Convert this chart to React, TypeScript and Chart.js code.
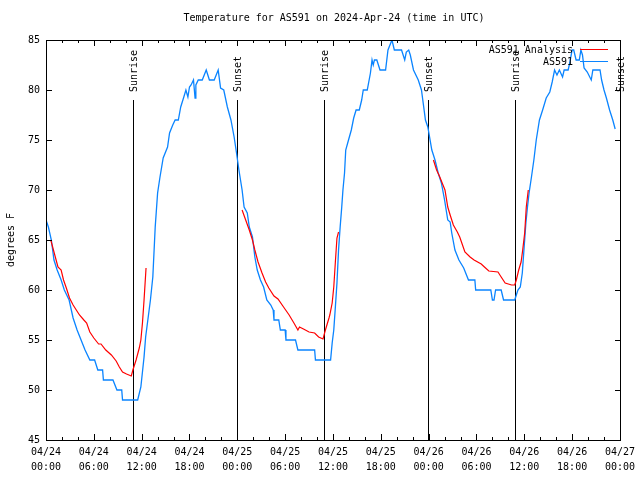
import React, { useEffect, useRef } from "react";
import { Chart, registerables } from "chart.js";
Chart.register(...registerables);

const FONT = '"DejaVu Sans Mono", monospace';
const TITLE = "Temperature for AS591 on 2024-Apr-24 (time in UTC)";
const Y_LABEL = "degrees F";
const DAY_LABELS = ["04/24", "04/25", "04/26", "04/27"];
const Y_MIN = 45;
const Y_MAX = 85;
const Y_STEP = 5;
const X_MIN = 0;
const X_MAX = 72;
const X_MAJOR = 6;
const X_MINOR = 2;

const OBS_LABEL = "AS591";
const ANA_LABEL = "AS591 Analysis";
const OBS_COLOR = "#0a84ff";
const ANA_COLOR = "#ff0000";

// hours since 2024-04-24 00:00 UTC
const obsHours = [
  0, 0.3, 0.67, 1.0, 1.4, 1.9, 2.3, 2.9, 3.4, 3.9, 4.4, 4.9, 5.5, 6.1, 6.5, 7.1, 7.2, 8.4, 8.9, 9.5, 9.6, 11.5,
  11.9, 12.3, 12.5, 13.1, 13.4, 13.7, 14.0, 14.3, 14.7, 15.25, 15.5, 15.9, 16.2, 16.6, 16.9, 17.25, 17.55, 17.8,
  18.0, 18.2, 18.5, 18.7, 18.8, 19.1, 19.6, 20.1, 20.5, 21.1, 21.6, 21.9, 22.3, 22.75, 23.2, 23.6, 23.9, 24.2,
  24.6, 24.85, 25.25, 25.5, 25.9, 26.2, 26.5, 26.9, 27.3, 27.7, 28.2, 28.5, 28.6, 29.2, 29.4, 30.0, 30.1, 31.3,
  31.6, 33.7, 33.8, 35.7, 35.9, 36.1, 36.3, 36.5, 36.7, 36.9, 37.1, 37.25, 37.45, 37.6, 37.95, 38.3, 38.6, 38.9,
  39.3, 39.6, 39.8, 40.3, 40.7, 40.9, 41.05, 41.2, 41.5, 41.9, 42.6, 42.9, 43.4, 43.7, 44.6, 45.0, 45.2, 45.5,
  45.7, 46.1, 46.7, 47.1, 47.3, 47.6, 47.9, 48.4, 48.8, 49.2, 49.6, 50.0, 50.4, 50.7, 50.9, 51.3, 51.8, 52.4,
  53.0, 53.8, 53.9, 55.8, 56.0, 56.2, 56.4, 57.1, 57.4, 58.8, 59.2, 59.5, 59.75, 60.0, 60.2, 60.4, 60.6, 60.9,
  61.2, 61.5, 61.9, 62.3, 62.75, 63.2, 63.5, 63.8, 64.1, 64.4, 64.8, 65.0, 65.5, 65.7, 66.0, 66.2, 66.5, 66.9,
  67.1, 67.3, 67.5, 67.9, 68.4, 68.6, 69.5, 69.7, 70.0, 70.3, 70.7, 71.1, 71.4,
];
const obsTemps = [
  67, 66.3, 65, 63, 62, 61, 60, 59, 57.2, 56, 55, 54, 53, 53, 52, 52, 51, 51, 50, 50, 49, 49,
  50.3, 53.3, 55.3, 59, 61.3, 66.3, 69.7, 71.3, 73.2, 74.3, 75.7, 76.5, 77, 77, 78.3, 79.2, 80, 79.3,
  80.3, 80.5, 81, 79.2, 80.5, 81, 81, 82, 81, 81, 82, 80.2, 80, 78.3, 77, 75.3, 73.7, 72,
  70, 68.3, 67.7, 66.3, 65.3, 63.3, 62, 61, 60.3, 59, 58.5, 58, 57, 57, 56, 56, 55, 55,
  54, 54, 53, 53, 54.7, 56, 58.3, 60.7, 64, 66.3, 68.3, 70, 71.7, 74, 75, 76, 77.2, 78,
  78, 79, 80, 80, 81.7, 83, 82.5, 83, 83, 82, 82, 84, 85, 84, 84, 83, 83.8, 84,
  83.5, 82, 81, 80, 78.8, 77, 76.3, 74, 73, 71.7, 70.7, 69, 67, 66.8, 65.7, 64, 63, 62.2,
  61, 61, 60, 60, 59, 59, 60, 60, 59, 59, 60, 60.3, 61.7, 64.5, 66.7, 68.3, 69.7, 71.3,
  73, 75, 77, 78, 79.2, 79.8, 80.8, 82, 81.5, 82, 81.3, 82, 82, 82.7, 84, 84, 83, 83,
  84, 83.5, 82.2, 81.8, 81, 82, 82, 81, 80, 79.2, 78, 77, 76.1,
];

// analysis: three night-time segments, null separates them
const anaHours = [
  0.6, 1.1, 1.5, 1.9, 2.2, 2.55, 2.95, 3.4, 3.8, 4.2, 4.75, 5.1, 5.5, 6.0, 6.6, 6.9, 7.5, 8.2, 8.8, 9.2, 9.6,
  10.1, 10.7, 10.9, 11.3, 11.7, 11.9, 12.1, 12.3, 12.55,
  18,
  24.6, 25.05, 25.5, 25.9, 26.2, 26.6, 27.1, 27.55, 27.95, 28.6, 29.1, 29.8, 30.5, 31.1, 31.6, 31.8, 32.3,
  33.0, 33.7, 34.2, 34.75, 35.05, 35.5, 35.6, 35.9, 36.1, 36.3, 36.5, 36.7,
  42,
  48.6, 49.0, 49.4, 49.8, 50.05, 50.4, 50.7, 51.1, 51.6, 51.9, 52.55, 53.2, 53.7, 54.6, 55.0, 55.55, 56.7,
  57.1, 57.6, 58.4, 58.8, 59.0, 59.3, 59.6, 59.8, 60.05, 60.25, 60.5,
];
const anaTemps = [
  65, 63.5, 62.3, 62, 61, 60.2, 59.2, 58.5, 58, 57.5, 57, 56.7, 55.8, 55.2, 54.6, 54.6, 54, 53.5, 52.9, 52.3, 51.8,
  51.6, 51.4, 52, 53, 54.2, 55, 56.7, 59, 62.2,
  null,
  68, 67, 66, 65, 64, 62.8, 61.7, 60.8, 60.2, 59.4, 59.1, 58.3, 57.5, 56.7, 56, 56.3, 56.1,
  55.8, 55.7, 55.3, 55.1, 56, 57.2, 57.5, 58.7, 60.3, 62.8, 65.2, 65.8,
  null,
  73, 72, 71.3, 70.5, 70, 68.3, 67.5, 66.5, 65.8, 65.3, 63.8, 63.3, 63, 62.6, 62.3, 61.9, 61.8,
  61.3, 60.7, 60.5, 60.5, 61, 62, 62.8, 64, 65.7, 68.3, 70,
];

const sunHours = [10.87, 23.92, 34.9, 47.9, 58.8, 71.95];
const sunLabels = ["Sunrise", "Sunset", "Sunrise", "Sunset", "Sunrise", "Sunset"];

const pad2 = (n: number) => (n < 10 ? "0" + n : "" + n);

const decorPlugin = {
  id: "decor",
  beforeDatasetsDraw(chart: any) {
    const { ctx, chartArea: a, scales } = chart;
    const xs = scales.x;
    const h = a.bottom - a.top;
    ctx.save();
    ctx.fillStyle = "#000";
    ctx.font = "10px " + FONT;
    sunHours.forEach((hr, i) => {
      const x = Math.round(xs.getPixelForValue(hr));
      const top = Math.round(a.bottom - 0.85 * h);
      ctx.fillRect(x, top, 1, a.bottom - top);
      ctx.save();
      ctx.translate(x + 1.5, a.bottom - 0.87 * h);
      ctx.rotate(-Math.PI / 2);
      ctx.textAlign = "left";
      ctx.textBaseline = "middle";
      ctx.fillText(sunLabels[i], 0, 0);
      ctx.restore();
    });
    ctx.restore();
  },
  afterDraw(chart: any) {
    const { ctx, chartArea: a, scales } = chart;
    const xs = scales.x;
    const ys = scales.y;
    const L = Math.round(a.left);
    const R = Math.round(a.right);
    const T = Math.round(a.top);
    const B = Math.round(a.bottom);
    ctx.save();
    ctx.fillStyle = "#000";
    // frame
    ctx.fillRect(L, T, R - L + 1, 1);
    ctx.fillRect(L, B, R - L + 1, 1);
    ctx.fillRect(L, T, 1, B - T + 1);
    ctx.fillRect(R, T, 1, B - T + 1);
    // x ticks (bottom + mirrored top)
    for (let v = X_MIN; v <= X_MAX; v += X_MINOR) {
      const x = Math.round(xs.getPixelForValue(v));
      const len = v % X_MAJOR === 0 ? 6 : 3;
      ctx.fillRect(x, B - len, 1, len);
      ctx.fillRect(x, T, 1, len);
    }
    // y ticks (left + mirrored right)
    for (let v = Y_MIN; v <= Y_MAX; v += Y_STEP) {
      const y = Math.round(ys.getPixelForValue(v));
      ctx.fillRect(L, y, 6, 1);
      ctx.fillRect(R - 5, y, 6, 1);
    }

    ctx.font = "10px " + FONT;
    ctx.textAlign = "center";
    ctx.textBaseline = "middle";
    ctx.fillText(TITLE, (a.left + a.right) / 2 + 1, 18);

    ctx.save();
    ctx.translate(11, (a.top + a.bottom) / 2);
    ctx.rotate(-Math.PI / 2);
    ctx.fillText(Y_LABEL, 0, 0);
    ctx.restore();

    // key
    const entries = [
      { label: ANA_LABEL, color: ANA_COLOR },
      { label: OBS_LABEL, color: OBS_COLOR },
    ];
    entries.forEach((e, i) => {
      const y = T + 10 + i * 12;
      ctx.textAlign = "right";
      ctx.fillStyle = "#000";
      ctx.fillText(e.label, R - 47, y);
      ctx.fillStyle = e.color;
      ctx.fillRect(R - 40, y - 1, 28, 1);
    });
    ctx.restore();
  },
};

export default function App() {
  const ref = useRef<HTMLCanvasElement>(null);
  useEffect(() => {
    if (!ref.current) return;
    const xTicks: number[] = [];
    for (let v = X_MIN; v <= X_MAX; v += X_MAJOR) xTicks.push(v);
    const chart = new Chart(ref.current, {
      type: "line",
      data: {
        datasets: [
          {
            label: ANA_LABEL,
            data: anaHours.map((h, i) => ({ x: h, y: anaTemps[i] })) as any,
            borderColor: ANA_COLOR,
            borderWidth: 1.2,
            pointRadius: 0,
            tension: 0,
            spanGaps: false,
          },
          {
            label: OBS_LABEL,
            data: obsHours.map((h, i) => ({ x: h, y: obsTemps[i] })),
            borderColor: OBS_COLOR,
            borderWidth: 1.3,
            pointRadius: 0,
            tension: 0,
          },
        ],
      },
      options: {
        animation: false,
        responsive: false,
        events: [],
        layout: { padding: { left: 0, right: 18, top: 40, bottom: 0 } },
        plugins: { legend: { display: false }, title: { display: false }, tooltip: { enabled: false } },
        scales: {
          x: {
            type: "linear",
            min: X_MIN,
            max: X_MAX,
            afterFit: (s: any) => {
              s.height = 40;
            },
            afterBuildTicks: (s: any) => {
              s.ticks = xTicks.map((v) => ({ value: v }));
            },
            grid: { display: false, drawTicks: false },
            border: { display: false },
            ticks: {
              color: "#000",
              font: { family: FONT, size: 10, lineHeight: 1.5 },
              padding: 5,
              maxRotation: 0,
              autoSkip: false,
              callback: (v: any) => {
                const n = Number(v);
                return [DAY_LABELS[Math.floor(n / 24)], pad2(n % 24) + ":00"];
              },
            },
          },
          y: {
            min: Y_MIN,
            max: Y_MAX,
            afterFit: (s: any) => {
              s.width = 46;
            },
            grid: { display: false, drawTicks: false },
            border: { display: false },
            ticks: {
              stepSize: Y_STEP,
              color: "#000",
              font: { family: FONT, size: 10 },
              padding: 6,
            },
          },
        },
      },
      plugins: [decorPlugin],
    });
    return () => chart.destroy();
  }, []);
  return (
    <div style={{ position: "fixed", left: 0, top: 0, width: 640, height: 480, background: "#fff" }}>
      <canvas ref={ref} width={640} height={480} style={{ width: 640, height: 480 }} />
    </div>
  );
}
